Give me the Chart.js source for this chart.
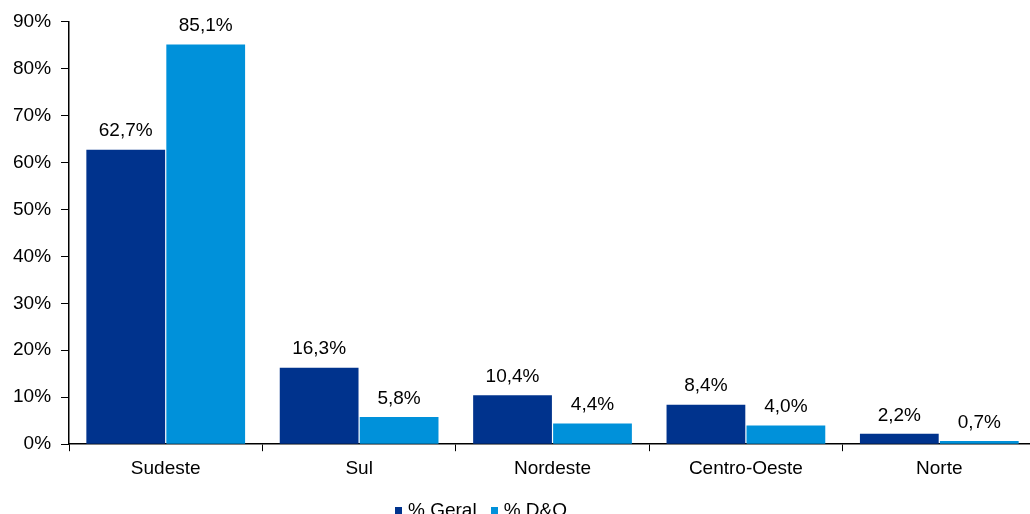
<!DOCTYPE html>
<html lang="pt">
<head>
    <meta charset="UTF-8">
    <title>Distribuição por região</title>
    <style>
        body {
            margin: 0;
            padding: 0;
            background: #fff;
            overflow: hidden;
            font-family: 'Liberation Sans', Arial, sans-serif;
        }
        .wrap {
            position: relative;
            width: 1040px;
            height: 514px;
        }
        .legend {
            position: absolute;
            top: 499px;
            left: 395px;
            font-size: 19px;
            line-height: 22px;
            color: #000;
            white-space: nowrap;
        }
        .legend span.item { margin-right: 14px; }
        .legend i {
            display: inline-block;
            width: 7px;
            height: 7px;
            margin-right: 6px;
            vertical-align: 2px;
        }
    </style>
</head>
<body>
    <div class="wrap">
        <canvas id="myChart" width="1040" height="514"></canvas>
        <div class="legend" id="legend"></div>
    </div>

    <script src="https://cdn.jsdelivr.net/npm/chart.js"></script>
    <script>
        var regioes = ['Sudeste', 'Sul', 'Nordeste', 'Centro-Oeste', 'Norte'];
        var geral = [62.7, 16.3, 10.4, 8.4, 2.2];
        var dno = [85.1, 5.8, 4.4, 4.0, 0.7];
        var nomesSeries = ['% Geral', '% D&O'];
        var cores = ['#00338D', '#0091DA'];

        function fmt(v) {
            return v.toFixed(1).replace('.', ',') + '%';
        }

        // rótulos em cima das barras
        var rotulos = {
            id: 'rotulos',
            afterDatasetsDraw: function(chart) {
                var ctx = chart.ctx;
                ctx.save();
                ctx.font = '19px "Liberation Sans", Arial, sans-serif';
                ctx.fillStyle = '#000';
                ctx.textAlign = 'center';
                ctx.textBaseline = 'bottom';
                chart.data.datasets.forEach(function(ds, i) {
                    chart.getDatasetMeta(i).data.forEach(function(bar, j) {
                        ctx.fillText(fmt(ds.data[j]), bar.x, bar.y - 9);
                    });
                });
                ctx.restore();
            }
        };

        Chart.defaults.font.family = '"Liberation Sans", Arial, sans-serif';
        Chart.defaults.font.size = 19;
        Chart.defaults.color = '#000';

        var ctx = document.getElementById('myChart').getContext('2d');
        new Chart(ctx, {
            type: 'bar',
            data: {
                labels: regioes,
                datasets: [
                    { label: nomesSeries[0], data: geral, backgroundColor: cores[0] },
                    { label: nomesSeries[1], data: dno, backgroundColor: cores[1] }
                ]
            },
            options: {
                responsive: false,
                animation: false,
                categoryPercentage: 0.827,
                barPercentage: 0.985,
                layout: { padding: { left: 3, right: 4, top: 19, bottom: 28 } },
                plugins: {
                    legend: { display: false },
                    tooltip: { enabled: false }
                },
                scales: {
                    x: {
                        grid: { drawOnChartArea: false, tickLength: 7, color: '#000', offset: true },
                        border: { color: '#000', width: 1.5 },
                        ticks: { padding: 6 }
                    },
                    y: {
                        min: 0,
                        max: 90,
                        grid: { drawOnChartArea: false, tickLength: 8, color: '#000' },
                        border: { color: '#000', width: 1.5 },
                        ticks: {
                            stepSize: 10,
                            padding: 10,
                            callback: function(v) { return v + '%'; }
                        }
                    }
                }
            },
            plugins: [rotulos]
        });

        var leg = document.getElementById('legend');
        nomesSeries.forEach(function(n, i) {
            var s = document.createElement('span');
            s.className = 'item';
            var q = document.createElement('i');
            q.style.background = cores[i];
            s.appendChild(q);
            s.appendChild(document.createTextNode(n));
            leg.appendChild(s);
        });
    </script>
</body>
</html>
